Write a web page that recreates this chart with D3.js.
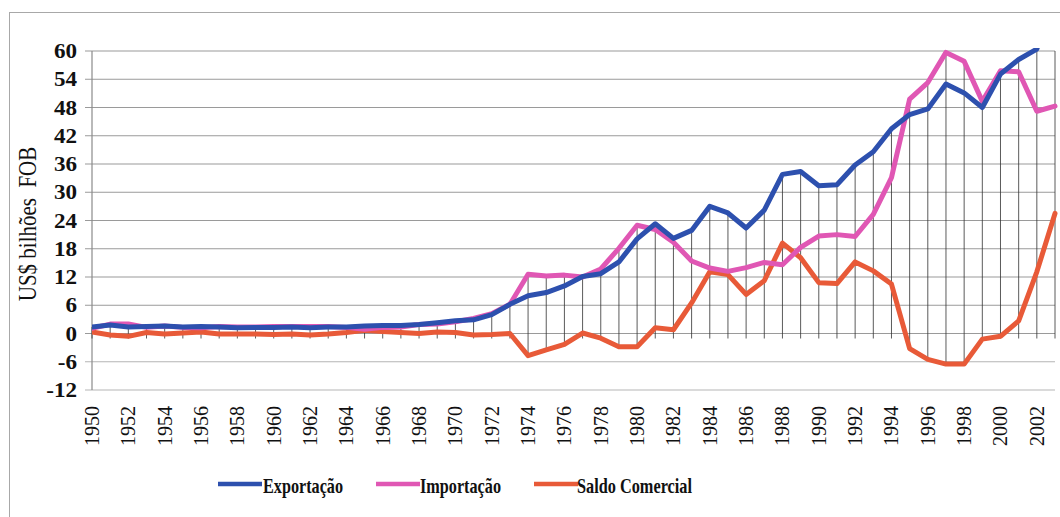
<!DOCTYPE html>
<html>
<head>
<meta charset="utf-8">
<script src="https://cdn.jsdelivr.net/npm/d3@7"></script>
<style>
  body { margin: 0; background: #fff; }
  svg { display: block; }
</style>
</head>
<body>
<script>
// anos (categorias)
var years = [1950,1951,1952,1953,1954,1955,1956,1957,1958,1959,
             1960,1961,1962,1963,1964,1965,1966,1967,1968,1969,
             1970,1971,1972,1973,1974,1975,1976,1977,1978,1979,
             1980,1981,1982,1983,1984,1985,1986,1987,1988,1989,
             1990,1991,1992,1993,1994,1995,1996,1997,1998,1999,
             2000,2001,2002,2003];
// US$ bilhões FOB
var exportacao = [1.4,1.8,1.4,1.5,1.6,1.4,1.5,1.4,1.2,1.3,
                  1.3,1.4,1.2,1.4,1.4,1.6,1.7,1.7,1.9,2.3,
                  2.7,2.9,4.0,6.2,8.0,8.7,10.1,12.1,12.7,15.2,
                  20.1,23.3,20.2,21.9,27.0,25.6,22.4,26.2,33.8,34.4,
                  31.4,31.6,35.8,38.6,43.5,46.5,47.7,53.0,51.1,48.0,
                  55.1,58.2,60.4,73.1];
var importacao = [1.1,2.0,2.0,1.3,1.6,1.3,1.2,1.5,1.4,1.4,
                  1.5,1.5,1.5,1.5,1.3,0.9,1.3,1.4,1.9,2.0,
                  2.5,3.2,4.2,6.2,12.6,12.2,12.4,12.0,13.7,18.1,
                  23.0,22.1,19.4,15.4,13.9,13.2,14.0,15.1,14.6,18.3,
                  20.7,21.0,20.6,25.3,33.1,49.8,53.3,59.7,57.8,49.3,
                  55.8,55.6,47.2,48.3];
var saldo = [0.3,-0.3,-0.6,0.2,-0.1,0.1,0.3,-0.1,-0.1,-0.1,
             -0.2,-0.1,-0.3,-0.1,0.2,0.7,0.4,0.2,0.0,0.3,
             0.2,-0.3,-0.2,0.0,-4.7,-3.5,-2.3,0.1,-1.0,-2.8,
             -2.8,1.2,0.8,6.5,13.1,12.5,8.3,11.2,19.2,16.1,
             10.8,10.6,15.2,13.3,10.5,-3.2,-5.5,-6.5,-6.5,-1.2,
             -0.6,2.7,13.1,25.5];
var yTicks = [-12,-6,0,6,12,18,24,30,36,42,48,54,60];
var seriesNames = ['Exportação','Importação','Saldo Comercial'];
var seriesColors = ['#2d50ae','#e057b4','#e85a38'];

var W = 1060, H = 517;
var margin = {left:92, right:1055, top:51, bottom:390};

var svg = d3.select('body').append('svg').attr('width', W).attr('height', H);

// moldura
svg.append('rect').attr('x', 9.5).attr('y', 12.5).attr('width', W).attr('height', H)
   .attr('fill', 'none').attr('stroke', '#a8a8a8');

var x = d3.scaleLinear().domain([years[0], years[years.length-1]]).range([margin.left, margin.right]);
var y = d3.scaleLinear().domain([-12, 60]).range([margin.bottom, margin.top]);

// linhas de grade
svg.append('g').selectAll('line').data(yTicks).enter().append('line')
   .attr('x1', margin.left - 7).attr('x2', margin.right)
   .attr('y1', function(d){ return y(d); }).attr('y2', function(d){ return y(d); })
   .attr('stroke', function(d){ return d < 0 ? '#b5b5b5' : '#9a9a9a'; })
   .attr('stroke-width', 1.2);

// eixo Y
svg.append('line').attr('x1', margin.left).attr('x2', margin.left)
   .attr('y1', margin.top).attr('y2', margin.bottom)
   .attr('stroke', '#8a8a8a').attr('stroke-width', 1.2);

svg.append('g').selectAll('text').data(yTicks).enter().append('text')
   .attr('transform', function(d){ return 'translate(77,' + (y(d) + 7) + ') scale(1.1,1)'; })
   .attr('text-anchor', 'end')
   .attr('font-family', 'Liberation Serif')
   .attr('font-weight', 'bold')
   .attr('font-size', 21)
   .attr('fill', '#111')
   .text(function(d){ return d; });

svg.append('text')
   .attr('transform', 'translate(36,224) rotate(-90) scale(1,1.2)')
   .attr('text-anchor', 'middle')
   .attr('font-family', 'Liberation Serif')
   .attr('font-size', 21)
   .attr('fill', '#111')
   .style('white-space', 'pre')
   .text('US$ bilhões  FOB');

// linhas verticais (drop lines) de cada ano
var drops = years.map(function(yr, i){
  var vals = [exportacao[i], importacao[i], saldo[i]];
  return { year: yr, hi: Math.min(d3.max(vals), 60), lo: Math.min(d3.min(vals), 0) };
});
svg.append('g').selectAll('line').data(drops).enter().append('line')
   .attr('x1', function(d){ return x(d.year); }).attr('x2', function(d){ return x(d.year); })
   .attr('y1', function(d){ return y(d.hi); })
   .attr('y2', function(d){ return Math.max(y(d.lo), y(0) + 5); })
   .attr('stroke', '#333').attr('stroke-width', 1).attr('opacity', 0.8);

// rótulos do eixo X (de 2 em 2 anos)
svg.append('g').selectAll('text').data(years.filter(function(d){ return d % 2 === 0; }))
   .enter().append('text')
   .attr('transform', function(d){ return 'translate(' + (x(d) + 7) + ',406) rotate(-90)'; })
   .attr('text-anchor', 'end')
   .attr('font-family', 'Liberation Serif')
   .attr('font-size', 20)
   .attr('fill', '#111')
   .text(function(d){ return d; });

// séries
svg.append('clipPath').attr('id', 'plot')
   .append('rect').attr('x', margin.left).attr('y', margin.top - 3)
   .attr('width', margin.right - margin.left + 3).attr('height', margin.bottom - margin.top + 6);

var line = d3.line()
   .x(function(d){ return x(d[0]); })
   .y(function(d){ return y(d[1]); });

var seriesData = [exportacao, importacao, saldo];
// ordem de desenho: saldo, importação, exportação
[2, 1, 0].forEach(function(k){
  svg.append('path')
     .datum(years.map(function(yr, i){ return [yr, seriesData[k][i]]; }))
     .attr('clip-path', 'url(#plot)')
     .attr('d', line)
     .attr('fill', 'none')
     .attr('stroke', seriesColors[k])
     .attr('stroke-width', 5)
     .attr('stroke-linejoin', 'round')
     .attr('stroke-linecap', 'round');
});

// legenda
var legend = [
  { lx: 218, tx: 263, len: 80 },
  { lx: 376, tx: 420, len: 81 },
  { lx: 534, tx: 577, len: 115 }
];
var lg = svg.append('g');
legend.forEach(function(l, i){
  lg.append('line').attr('x1', l.lx).attr('x2', l.lx + 44).attr('y1', 484).attr('y2', 484)
    .attr('stroke', seriesColors[i]).attr('stroke-width', 4.5);
  lg.append('text').attr('x', l.tx).attr('y', 493)
    .attr('font-family', 'Liberation Serif').attr('font-weight', 'bold').attr('font-size', 21)
    .attr('textLength', l.len).attr('lengthAdjust', 'spacingAndGlyphs')
    .attr('fill', '#111')
    .text(seriesNames[i]);
});
</script>
</body>
</html>
